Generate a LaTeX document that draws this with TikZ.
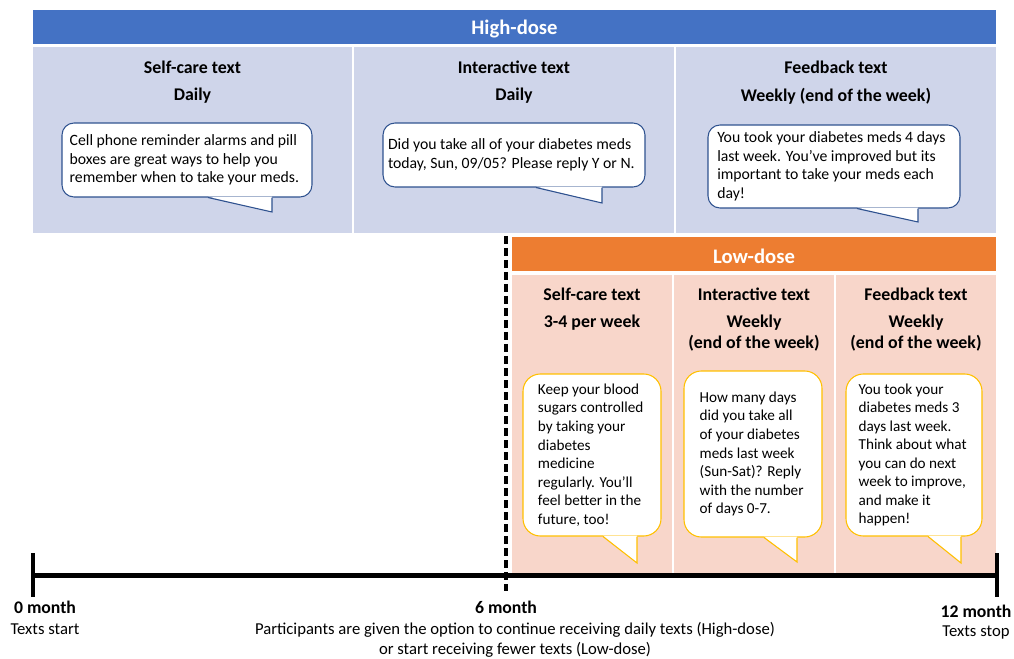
\documentclass[tikz,border=0pt]{standalone}
\usepackage{fontspec}
\setmainfont{Carlito}
\definecolor{hiblue}{RGB}{68,114,196}
\definecolor{hipanel}{RGB}{207,213,234}
\definecolor{hiline}{RGB}{47,82,143}
\definecolor{loorange}{RGB}{237,125,49}
\definecolor{lopanel}{RGB}{248,214,202}
\definecolor{loline}{RGB}{255,192,0}
\usetikzlibrary{calc}
\usetikzlibrary{positioning}
\tikzset{
  x=0.75pt, y=-0.75pt,
  head/.style={font=\fontsize{15.5}{18}\selectfont\bfseries, text=white, yshift=-1.5pt},
  coltitle/.style={font=\fontsize{13.4}{15.75}\selectfont\bfseries, align=center, inner sep=0pt},
  msg/.style={font=\fontsize{11.8}{13.9}\selectfont, align=left, inner sep=0pt},
  lomsg/.style={msg, font=\fontsize{11.4}{13.9}\selectfont},
  hibubble/.style={draw=hiline, fill=white, line width=0.8pt, rounded corners=9pt, inner sep=0pt},
  lobubble/.style={draw=loline, fill=white, line width=0.8pt, rounded corners=13pt, inner sep=0pt},
  axislabel/.style={font=\fontsize{13.3}{15}\selectfont\bfseries, inner sep=0pt},
  axisnote/.style={font=\fontsize{12.5}{14.5}\selectfont, align=center, inner sep=0pt}
}

\begin{document}
\begin{tikzpicture}
  \useasboundingbox (0,0) rectangle (1014,659);

  % high-dose block
  \fill [hiblue] (33,10) rectangle node [head] (hihead) {High-dose} (996,44);
  \foreach \l/\r/\title/\freq [count=\i] in {33/352/Self-care text/Daily,
      354/674/Interactive text/Daily, 676/996/Feedback text/{Weekly (end of the week)}} {
    \fill [hipanel] (\l,47) rectangle (\r,233);
    \node [coltitle] (ht\i) at ({(\l+\r)/2},67) {\title};
    \node [coltitle] (hf\i) at ({(\l+\r)/2},96) {\freq};
  }

  % low-dose block
  \fill [loorange] (512,237) rectangle node [head] (lohead) {Low-dose} (996,271);
  \foreach \l/\r/\title/\freq/\fy [count=\i] in {512/672/Self-care text/{3-4 per week}/323,
      674/834/Interactive text/{Weekly\\(end of the week)}/333.5,
      836/996/Feedback text/{Weekly\\(end of the week)}/333.5} {
    \fill [lopanel] (\l,275) rectangle (\r,573);
    \node [coltitle] (lt\i) at ({(\l+\r)/2},294) {\title};
    \node [coltitle] (lf\i) at ({(\l+\r)/2},\fy) {\freq};
  }

  % speech bubbles
  \node [hibubble, minimum width=187.5pt, minimum height=55.5pt] (b1) at (187,160) {};
  \coordinate (p1) at (272,212);
  \fill [white] ($(b1.south)+(21,-1)$) -- (p1) -- ($(p1 |- b1.south)+(0,-1)$) -- cycle;
  \draw [hiline, line width=0.8pt] ($(b1.south)+(21,0)$) -- (p1) -- (p1 |- b1.south);
  \node [msg] (m1) at ([xshift=-2pt]b1) {Cell phone reminder alarms and pill\\boxes are great ways to help you\\remember when to take your meds.};

  \node [hibubble, minimum width=196.5pt, minimum height=48pt] (b2) at (514,155) {};
  \coordinate (p2) at (602,203);
  \fill [white] ($(b2.south)+(22,-1)$) -- (p2) -- ($(p2 |- b2.south)+(0,-1)$) -- cycle;
  \draw [hiline, line width=0.8pt] ($(b2.south)+(22,0)$) -- (p2) -- (p2 |- b2.south);
  \node [msg] (m2) at ([xshift=-2pt]b2) {Did you take all of your diabetes meds\\today, Sun, 09/05? Please reply Y or N.};

  \node [hibubble, minimum width=189pt, minimum height=62.25pt] (b3) at (834,166.5) {};
  \coordinate (p3) at (918,222);
  \fill [white] ($(b3.south)+(23,-1)$) -- (p3) -- ($(p3 |- b3.south)+(0,-1)$) -- cycle;
  \draw [hiline, line width=0.8pt] ($(b3.south)+(23,0)$) -- (p3) -- (p3 |- b3.south);
  \node [msg] (m3) at ([xshift=-2pt]b3) {You took your diabetes meds 4 days\\last week. You’ve improved but its\\important to take your meds each\\day!};

  \node [lobubble, minimum width=103.5pt, minimum height=121.5pt] (b4) at (592,455) {};
  \coordinate (p4) at (637,563);
  \fill [white] ($(b4.south)+(11,-1)$) -- (p4) -- ($(p4 |- b4.south)+(0,-1)$) -- cycle;
  \draw [loline, line width=0.8pt] ($(b4.south)+(11,0)$) -- (p4) -- (p4 |- b4.south);
  \node [lomsg] (m4) at ([xshift=-1pt]b4) {Keep your blood\\sugars controlled\\by taking your\\diabetes\\medicine\\regularly. You’ll\\feel better in the\\future, too!};

  \node [lobubble, minimum width=103.5pt, minimum height=124.5pt] (b5) at (753,454) {};
  \coordinate (p5) at (797,562);
  \fill [white] ($(b5.south)+(11,-1)$) -- (p5) -- ($(p5 |- b5.south)+(0,-1)$) -- cycle;
  \draw [loline, line width=0.8pt] ($(b5.south)+(11,0)$) -- (p5) -- (p5 |- b5.south);
  \node [lomsg] (m5) at ([xshift=-1pt]b5) {How many days\\did you take all\\of your diabetes\\meds last week\\(Sun-Sat)? Reply\\with the number\\of days 0-7.};

  \node [lobubble, minimum width=102pt, minimum height=121.5pt] (b6) at (914,455) {};
  \coordinate (p6) at (961,563);
  \fill [white] ($(b6.south)+(14,-1)$) -- (p6) -- ($(p6 |- b6.south)+(0,-1)$) -- cycle;
  \draw [loline, line width=0.8pt] ($(b6.south)+(14,0)$) -- (p6) -- (p6 |- b6.south);
  \node [lomsg] (m6) at ([xshift=-1pt]b6) {You took your\\diabetes meds 3\\days last week.\\Think about what\\you can do next\\week to improve,\\and make it\\happen!};

  % time line
  \coordinate (t0) at (33,575);
  \coordinate (t6) at (506,575);
  \coordinate (t12) at (998,575);
  \draw [line width=3.75pt] (t0) -- (t12);
  \draw [line width=3pt] (33,553) -- (33,597);
  \draw [line width=3pt] (996.5,553) -- (996.5,597);
  \draw [line width=2.5pt, dash pattern=on 6pt off 3pt] (506,236) -- (506,591);

  \node [axislabel] (l0) at (45,607) {0 month};
  \node [axisnote] (n0) at (45,629) {Texts start};
  \node [axislabel] (l6) at (506,607) {6 month};
  \node [axisnote] (n6) at (515,640) {Participants are given the option to continue receiving daily texts (High-dose)\\or start receiving fewer texts (Low-dose)};
  \node [axislabel] (l12) at (976,611) {12 month};
  \node [axisnote] (n12) at (976,632) {Texts stop};
\end{tikzpicture}
\end{document}
